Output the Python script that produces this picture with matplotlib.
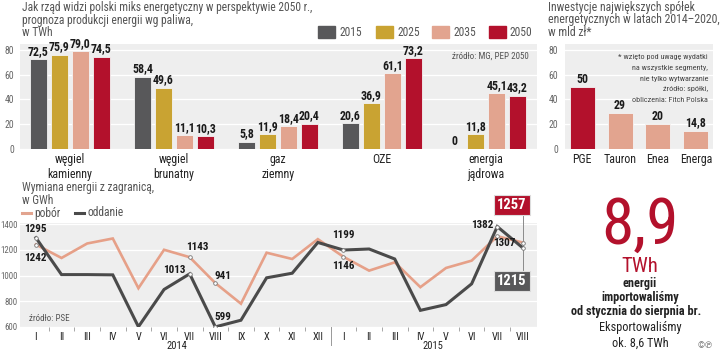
import numpy as np
import matplotlib
matplotlib.use('Agg')
import matplotlib.pyplot as plt
from matplotlib import font_manager
from matplotlib.patches import Rectangle
from matplotlib.lines import Line2D

# data: top-left chart (TWh)
groups = ['węgiel\nkamienny', 'węgiel\nbrunatny', 'gaz\nziemny', 'OZE', 'energia\njądrowa']
years = ['2015', '2025', '2035', '2050']
v2015 = [72.5, 58.4, 5.8, 20.6, 0]
v2025 = [75.9, 49.6, 11.9, 36.9, 11.8]
v2035 = [79.0, 11.1, 18.4, 61.1, 45.1]
v2050 = [74.5, 10.3, 20.4, 73.2, 43.2]

# data: top-right chart (mld zl)
companies = ['PGE', 'Tauron', 'Enea', 'Energa']
invest = [50, 29, 20, 14.8]

# data: bottom chart (GWh)
months = ['I', 'II', 'III', 'IV', 'V', 'VI', 'VII', 'VIII', 'IX', 'X', 'XI', 'XII',
          'I', 'II', 'III', 'IV', 'V', 'VI', 'VII', 'VIII']
pobor = [1242, 1137, 1250, 1289, 901, 1201, 1143, 941, 780, 1178, 1129, 1284,
         1146, 1038, 1103, 909, 1059, 1116, 1307, 1257]
oddanie = [1295, 1007, 1007, 1005, 600, 891, 1013, 599, 651, 982, 1018, 1258,
           1199, 1207, 1129, 728, 773, 935, 1382, 1215]

names = {f.name for f in font_manager.fontManager.ttflist}
cond = next((n for n in ['Roboto Condensed', 'Liberation Sans Narrow', 'Noto Sans Condensed',
                         'Open Sans Condensed', 'Roboto'] if n in names), 'DejaVu Sans')
plt.rcParams['font.family'] = [cond, 'DejaVu Sans']

W, H = 720, 356
fig = plt.figure(figsize=(W / 100, H / 100), dpi=100)


def rect(x0, y0, x1, y1):
    return [x0 / W, 1 - y1 / H, (x1 - x0) / W, (y1 - y0) / H]


def ftext(x, y, s, **kw):
    kw.setdefault('va', 'center')
    fig.text(x / W, 1 - y / H, s, **kw)


bg = '#eeeeee'
c_dark = '#58585a'
c_gold = '#c9a332'
c_salm = '#e2a48f'
c_red = '#b3112c'
title_c = '#555555'

# ---------- chart 1 ----------
for i, s in enumerate(['Jak rząd widzi polski miks energetyczny w perspektywie 2050 r.,',
                       'prognoza produkcji energii wg paliwa,', 'w TWh']):
    ftext(22, 8 + 12.5 * i, s, fontsize=8.3, color=title_c)

ax1 = fig.add_axes(rect(20, 44, 537, 149))
ax1.set_facecolor(bg)
x = np.arange(len(groups))
series = [v2015, v2025, v2035, v2050]
cols = [c_dark, c_gold, c_salm, c_red]
for k, (vals, c) in enumerate(zip(series, cols)):
    xs = x + (k - 1.5) * 0.202
    ax1.bar(xs, vals, width=0.163, color=c, edgecolor='#f4f4f4', linewidth=0.6, zorder=2)
    for xi, v in zip(xs, vals):
        ax1.text(xi, v + 1.2, f'{v:.1f}'.replace('.', ',') if v else '0',
                 ha='center', va='bottom', fontsize=8.6, fontweight='bold', color='#1a1a1a')
ax1.set_xlim(-0.48, 4.49)
ax1.set_ylim(0, 84.8)
ax1.set_yticks([0, 20, 40, 60, 80])
ax1.tick_params(axis='y', length=0, labelsize=7, labelcolor='#666666', pad=4)
ax1.set_xticks(x, groups)
ax1.tick_params(axis='x', length=0, labelsize=8.6, labelcolor='#222222', pad=3)
ax1.yaxis.grid(True, color='white', lw=0.9)
ax1.set_axisbelow(True)
for sp in ax1.spines.values():
    sp.set_visible(False)
ax1.text(0.985, 0.88, 'źródło: MG, PEP 2050', transform=ax1.transAxes, ha='right',
         va='center', fontsize=6.5, color='#555555')

# legend
for (x0, y0), lab, c in zip([(318, 32), (376, 32), (432, 32), (489, 32)], years, cols):
    fig.add_artist(Rectangle((x0 / W, 1 - (y0 + 6) / H), 17 / W, 12 / H, color=c,
                             transform=fig.transFigure))
    ftext(x0 + 21, y0, lab, fontsize=8.3, color=title_c)

# ---------- chart 2 ----------
for i, s in enumerate(['Inwestycje największych spółek',
                       'energetycznych w latach 2014–2020,', 'w mld zł*']):
    ftext(548, 7 + 12.5 * i, s, fontsize=8.5, color=title_c)

ax2 = fig.add_axes(rect(565, 44, 713, 149))
ax2.set_facecolor(bg)
x2 = np.arange(len(companies))
ax2.bar(x2, invest, width=0.66, color=[c_red] + [c_salm] * 3,
        edgecolor='#f4f4f4', linewidth=0.6, zorder=2)
for xi, v in zip(x2, invest):
    ax2.text(xi, v + 1.2, f'{v:g}'.replace('.', ','), ha='center', va='bottom',
             fontsize=8.6, fontweight='bold', color='#1a1a1a')
ax2.set_xlim(-0.45, 3.45)
ax2.set_ylim(0, 84.8)
ax2.set_yticks([0, 20, 40, 60, 80])
ax2.tick_params(axis='y', length=0, labelsize=7, labelcolor='#666666', pad=5)
ax2.set_xticks(x2, companies)
ax2.tick_params(axis='x', length=0, labelsize=8.6, labelcolor='#222222', pad=3)
ax2.yaxis.grid(True, color='white', lw=0.9)
ax2.set_axisbelow(True)
for sp in ax2.spines.values():
    sp.set_visible(False)
for i, s in enumerate(['* wzięto pod uwagę wydatki', 'na wszystkie segmenty,',
                       'nie tylko wytwarzanie', 'źródło: spółki,', 'obliczenia: Fitch Polska']):
    ftext(708, 57 + 10.8 * i, s, ha='right', fontsize=5.9, color='#444444')

# ---------- chart 3 ----------
ftext(22, 188, 'Wymiana energii z zagranicą,', fontsize=8.3, color=title_c)
ftext(22, 200, 'w GWh', fontsize=8.3, color=title_c)
fig.add_artist(Line2D([22 / W, 31 / W], [1 - 213 / H] * 2, color=c_salm, lw=2.2))
ftext(34, 213, 'pobór', fontsize=8.3, color=title_c)
fig.add_artist(Line2D([75 / W, 84 / W], [1 - 213 / H] * 2, color='#4a4a4a', lw=2.2))
ftext(87, 213, 'oddanie', fontsize=8.3, color=title_c)

ax3 = fig.add_axes(rect(20, 223, 537, 327))
ax3.set_facecolor(bg)
xm = np.arange(len(months))
ax3.plot(xm, pobor, color='#e6a088', lw=1.9, zorder=3, solid_joinstyle='miter')
ax3.plot(xm, oddanie, color='#4a4a4a', lw=2.2, zorder=4, solid_joinstyle='miter')
ax3.set_xlim(-0.62, 19.55)
ax3.set_ylim(598, 1410)
ax3.set_yticks([600, 800, 1000, 1200, 1400])
ax3.tick_params(axis='y', length=0, labelsize=6.4, labelcolor='#666666', pad=1.5)
ax3.set_xticks(xm, months)
ax3.set_xticks(np.arange(0.5, 19, 1), minor=True)
ax3.tick_params(axis='x', which='major', length=0, labelsize=7.5, labelcolor='#222222', pad=3.5)
ax3.tick_params(axis='x', which='minor', length=3, width=0.6, color='#999999')
ax3.yaxis.grid(True, color='white', lw=0.9)
ax3.set_axisbelow(True)
for sp in ax3.spines.values():
    sp.set_visible(False)
ax3.plot([11.5, 11.5], [0, -0.17], transform=ax3.get_xaxis_transform(), color='#999999',
         lw=0.7, clip_on=False)
ax3.text(5.5, -0.185, '2014', transform=ax3.get_xaxis_transform(), ha='center', va='center',
         fontsize=7.6, color='#222222')
ax3.text(15.5, -0.185, '2015', transform=ax3.get_xaxis_transform(), ha='center', va='center',
         fontsize=7.6, color='#222222')
ax3.text(0.018, 0.085, 'źródło: PSE', transform=ax3.transAxes, ha='left', va='center',
         fontsize=6.5, color='#555555')

# labelled points: (index, series, dx px, dy px, ha)
notes = [(0, oddanie, -1, 9, 'center'), (0, pobor, -1, -13, 'center'),
         (6, oddanie, -4, 4, 'right'), (6, pobor, 8, 10, 'center'),
         (7, pobor, 8, 7, 'center'), (7, oddanie, 8, 10, 'center'),
         (12, oddanie, 0, 15, 'center'), (12, pobor, 0, -9, 'center'),
         (18, oddanie, -4, 2, 'right'), (18, pobor, 7, -7, 'center')]
for i, s, dx, dy, ha in notes:
    ax3.plot(i, s[i], 'o', ms=2.6, mfc='white', mec='#777777', mew=0.6, zorder=5)
    ax3.annotate(str(s[i]), (i, s[i]), xytext=(dx * 0.72, dy * 0.72),
                 textcoords='offset points', ha=ha, va='center', fontsize=8,
                 fontweight='bold', color='#1a1a1a', zorder=6)
ax3.plot(19, pobor[19], 'o', ms=2.6, mfc='white', mec='#777777', mew=0.6, zorder=5)
ax3.plot(19, oddanie[19], 'o', ms=2.6, mfc='white', mec='#777777', mew=0.6, zorder=5)
ax3.plot([19, 19], [0.48, 1.1], transform=ax3.get_xaxis_transform(), color='#8a8a8a',
         lw=0.7, clip_on=False, zorder=2)
ax3.annotate(str(pobor[19]), (19, pobor[19]), xytext=(-11 * 0.72, 37.7 * 0.72),
             textcoords='offset points', ha='center', va='center', fontsize=10.5,
             fontweight='bold', color='white', annotation_clip=False,
             bbox=dict(boxstyle='square,pad=0.22', fc=c_red, ec='#dddddd', lw=0.8))
ax3.annotate(str(oddanie[19]), (19, oddanie[19]), xytext=(-11 * 0.72, -33 * 0.72),
             textcoords='offset points', ha='center', va='center', fontsize=10.5,
             fontweight='bold', color='white', annotation_clip=False,
             bbox=dict(boxstyle='square,pad=0.22', fc='#58585a', ec='#dddddd', lw=0.8))

# ---------- big number ----------
ftext(640, 226, '8,9', ha='center', fontsize=47, color=c_red)
ftext(640, 266, 'TWh', ha='center', fontsize=15, color=c_red)
ftext(640, 283, 'energii', ha='center', fontsize=8.8, fontweight='bold', color='#222222')
ftext(640, 297, 'importowaliśmy', ha='center', fontsize=8.8, fontweight='bold', color='#222222')
ftext(636, 312, 'od stycznia do sierpnia br.', ha='center', fontsize=8.8,
      fontweight='bold', color='#222222')
ftext(640, 328, 'Eksportowaliśmy', ha='center', fontsize=8.8, color='#222222')
ftext(640, 343, 'ok. 8,6 TWh', ha='center', fontsize=8.8, color='#222222')
ftext(706, 345, '©℗', ha='center', fontsize=6.5, color='#777777')

fig.savefig('out.png', dpi=100)
